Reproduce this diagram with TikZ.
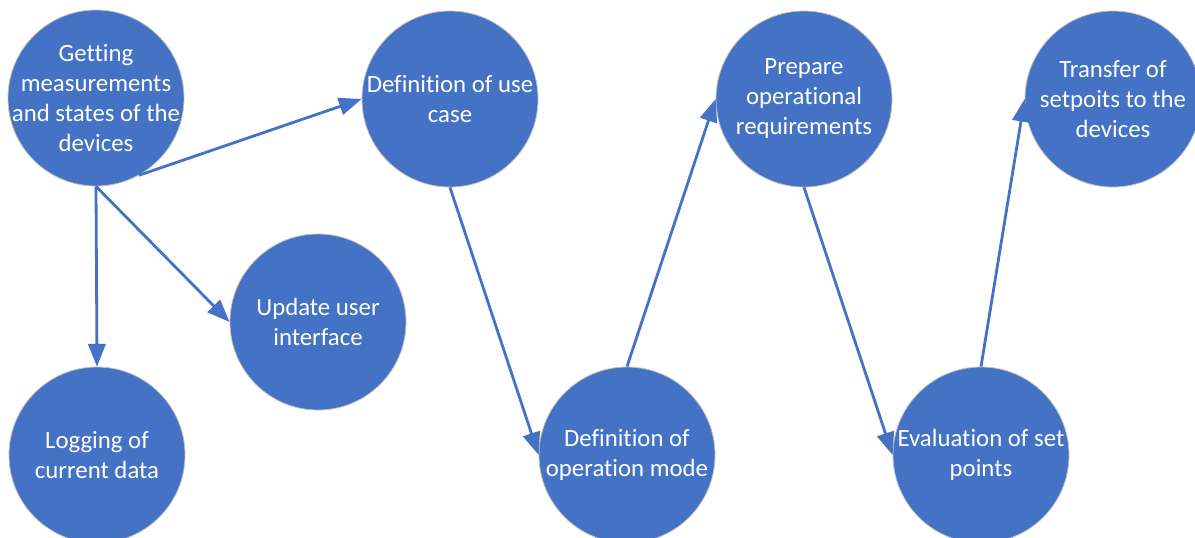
\documentclass[tikz,border=0pt]{standalone}
\usepackage{fontspec}
\setmainfont{Carlito}[Ligatures=NoCommon]
\usetikzlibrary{arrows.meta}
\definecolor{taskblue}{HTML}{4472C4}
\definecolor{rimgrey}{HTML}{BFBFBF}

\begin{document}
\begin{tikzpicture}[x=0.75pt,y=-0.75pt,
    task/.style={circle,fill=taskblue,draw=rimgrey,line width=0.6pt,
      minimum size=132pt,inner sep=-40pt,text=white,align=center,
      font=\fontsize{18.6}{22.5}\selectfont},
    flow/.style={draw=taskblue,line width=2.1pt,
      -{Triangle[length=17pt,width=13pt]}}]
  \useasboundingbox (0,0) rectangle (1195,537);
  % first column: reading the devices
  \node[task] (meas) at (96,98) {Getting\\measurements\\and states of the\\devices};
  \node[task] (log) at (97,455) {Logging of\\current data};
  \node[task] (ui) at (318,322) {Update user\\interface};
  % zig-zag of the control steps
  \node[task] (usecase) at (450,99) {Definition of use\\case};
  \node[task] (mode) at (627,455) {Definition of\\operation mode};
  \node[task] (req) at (804,99) {Prepare\\operational\\requirements};
  \node[task] (eval) at (981,455) {Evaluation of set\\points};
  \node[task] (send) at (1113,99) {Transfer of\\setpoits to the\\devices};
  % connectors
  \draw[flow] (meas.-61) -- (usecase.west);
  \draw[flow] (meas.south) -- (log.north);
  \draw[flow] (meas.south) -- (ui.west);
  \draw[flow] (usecase.south) -- (mode.west);
  \draw[flow] (mode.north) -- (req.west);
  \draw[flow] (req.south) -- (eval.west);
  \draw[flow] (eval.north) -- (send.west);
\end{tikzpicture}
\end{document}
